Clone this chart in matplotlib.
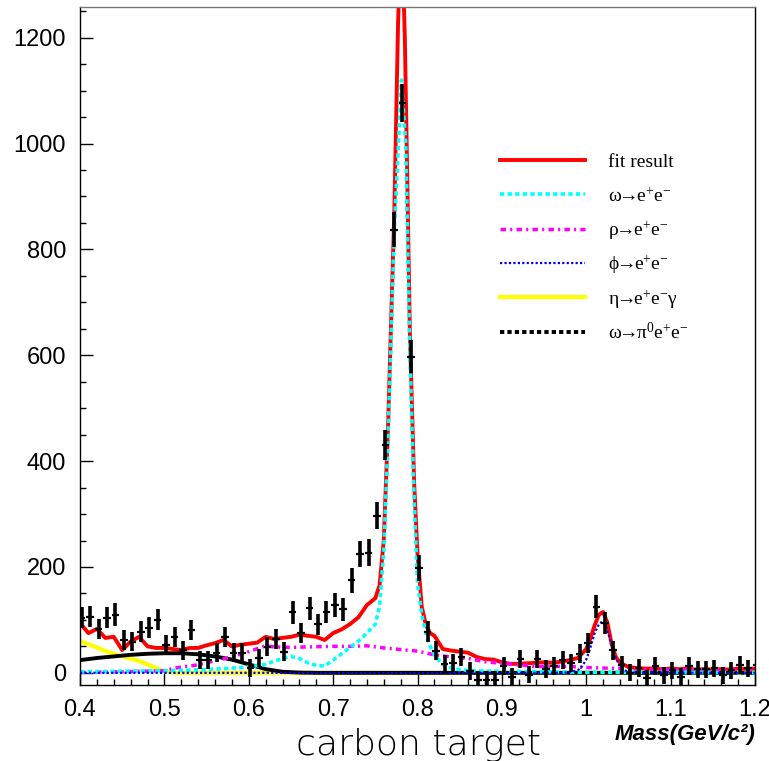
import numpy as np
import matplotlib
matplotlib.use('Agg')
import matplotlib.pyplot as plt
from matplotlib.ticker import MultipleLocator, FixedLocator

plt.rcParams['mathtext.fontset'] = 'custom'
plt.rcParams['mathtext.rm'] = 'Liberation Serif'
plt.rcParams['mathtext.it'] = 'Liberation Serif:italic'
plt.rcParams['mathtext.default'] = 'rm'

# measured spectrum (counts per 10 MeV bin)
counts = [104, 106, 83, 104, 110, 62, 59, 78, 85, 100,
          53, 68, 43, 81, 25, 25, 38, 68, 38, 38,
          10, 28, 49, 64, 40, 114, 75, 122, 92, 115,
          128, 120, 175, 225, 227, 297, 431, 837, 1077, 597,
          198, 78, 42, 17, 19, 30, 4, -13, -13, -13,
          13, -7, 26, -4, 26, 8, 13, 25, 18, 36,
          57, 125, 94, 43, 15, 0, 9, -10, 13, -5,
          5, -7, 12, 7, 7, 9, -5, 5, 15, 9, 15]
errors = [20, 20, 19, 20, 21, 18, 18, 19, 20, 20,
          18, 19, 18, 19, 17, 17, 18, 19, 18, 18,
          17, 17, 18, 19, 18, 21, 19, 22, 20, 21,
          22, 22, 24, 25, 25, 26, 28, 33, 36, 31,
          24, 19, 18, 17, 17, 17, 17, 16, 16, 16,
          17, 16, 17, 16, 17, 17, 17, 17, 17, 18,
          19, 22, 21, 18, 17, 16, 17, 16, 17, 16,
          16, 16, 17, 16, 16, 16, 16, 16, 17, 16, 17]
mass = np.round(0.402 + 0.01 * np.arange(len(counts)), 4)

fit_m = [0.40, 0.41, 0.42, 0.43, 0.44, 0.45, 0.46, 0.47, 0.48, 0.49, 0.50, 0.51, 0.52, 0.53,
         0.54, 0.55, 0.56, 0.57, 0.58, 0.59, 0.60, 0.61, 0.62, 0.63, 0.64, 0.65, 0.66, 0.67,
         0.68, 0.69, 0.70, 0.71, 0.72, 0.73, 0.74, 0.75, 0.755, 0.76, 0.765, 0.7725, 0.777,
         0.781, 0.785, 0.791, 0.796, 0.80, 0.805, 0.81, 0.815, 0.82, 0.83, 0.84, 0.85, 0.86,
         0.87, 0.88, 0.89, 0.90, 0.91, 0.92, 0.93, 0.94, 0.95, 0.96, 0.97, 0.98, 0.99, 1.00,
         1.005, 1.01, 1.015, 1.02, 1.025, 1.03, 1.035, 1.04, 1.05, 1.06, 1.07, 1.08, 1.09,
         1.10, 1.11, 1.12, 1.13, 1.14, 1.15, 1.16, 1.17, 1.18, 1.19, 1.20]
fit_v = [94, 75, 83, 66, 68, 43, 59, 68, 50, 47, 47, 45, 43, 47,
         47, 52, 56, 62, 50, 53, 55, 57, 68, 64, 66, 68, 72, 70,
         68, 62, 75, 82, 92, 105, 128, 141, 165, 250, 460, 870, 1230,
         1420, 1200, 640, 360, 225, 125, 90, 75, 70, 45, 42, 40, 38,
         30, 26, 25, 20, 17, 17, 18, 19, 20, 19, 21, 24, 28, 45,
         65, 90, 110, 115, 95, 55, 30, 19, 11, 9, 8, 8, 7,
         8, 7, 8, 6, 7, 6, 7, 6, 8, 7, 8]

omega_m = [0.40, 0.45, 0.50, 0.55, 0.58, 0.60, 0.62, 0.63, 0.64, 0.65, 0.66, 0.67, 0.68, 0.69,
           0.70, 0.71, 0.72, 0.73, 0.74, 0.75, 0.755, 0.76, 0.765, 0.7725, 0.781, 0.786,
           0.791, 0.796, 0.80, 0.805, 0.81, 0.815, 0.82, 0.825, 0.83, 0.84, 0.85, 0.86,
           0.90, 1.00, 1.10, 1.20]
omega_v = [2, 3, 4, 6, 9, 11, 16, 22, 27, 31, 27, 19, 14, 13,
           24, 36, 48, 60, 75, 92, 125, 230, 435, 837, 1120, 1000,
           597, 327, 170, 110, 75, 50, 34, 24, 16, 9, 6, 4,
           3, 1, 1, 0]

rho_m = [0.40, 0.45, 0.50, 0.51, 0.52, 0.53, 0.54, 0.55, 0.56, 0.58, 0.60, 0.62, 0.63, 0.65,
         0.67, 0.70, 0.72, 0.74, 0.76, 0.78, 0.80, 0.82, 0.84, 0.86, 0.88, 0.90, 0.92, 0.94,
         0.96, 0.98, 1.00, 1.02, 1.04, 1.06, 1.10, 1.15, 1.20]
rho_v = [1, 2, 4, 8, 11, 13, 15, 19, 23, 30, 40, 51, 49, 48,
         49, 50, 50, 51, 47, 44, 41, 34, 30, 27, 21, 18, 15, 12,
         12, 12, 10, 9, 8, 7, 6, 5, 5]

phi_m = [0.40, 0.97, 0.98, 0.99, 0.995, 1.00, 1.005, 1.01, 1.015, 1.019, 1.023, 1.027,
         1.031, 1.035, 1.04, 1.045, 1.05, 1.06, 1.20]
phi_v = [0, 0, 1, 5, 12, 25, 48, 75, 92, 97, 90, 70,
         48, 28, 12, 5, 2, 0, 0]

eta_m = [0.40, 0.41, 0.42, 0.43, 0.44, 0.45, 0.46, 0.47, 0.48, 0.49, 0.50, 0.51, 1.20]
eta_v = [60, 54, 48, 41, 36, 31, 27, 22, 16, 9, 3, 0, 0]

dalitz_m = [0.40, 0.42, 0.44, 0.46, 0.48, 0.50, 0.52, 0.54, 0.56, 0.58, 0.60, 0.62, 0.64,
            0.66, 0.68, 1.20]
dalitz_v = [24, 28, 31, 34, 36, 37, 37, 35, 31, 25, 16, 7, 2, 0.5, 0, 0]

labels = ['fit result', r'$\omega\!\!\rightarrow\!\!e^{+}e^{-}$', r'$\rho\!\!\rightarrow\!\!e^{+}e^{-}$',
          r'$\phi\!\!\rightarrow\!\!e^{+}e^{-}$', r'$\eta\!\!\rightarrow\!\!e^{+}e^{-}\gamma$',
          r'$\omega\!\!\rightarrow\!\!\pi^{0}e^{+}e^{-}$']

fig = plt.figure(figsize=(7.69, 7.61), dpi=100)
ax = fig.add_axes([80 / 769, 76 / 761, 675 / 769, 678 / 761])

ax.plot(fit_m, fit_v, color='#ff0000', lw=2.8)
ax.plot(eta_m, eta_v, color='#ffff00', lw=3.0)
ax.plot(dalitz_m, dalitz_v, color='black', lw=2.8)
ax.plot(rho_m, rho_v, color='#ff00ff', lw=2.5, dashes=(1.6, 1.2, 0.6, 1.2))
ax.plot(omega_m, omega_v, color='#00ffff', lw=2.6, dashes=(1.2, 0.9))
ax.plot(phi_m, phi_v, color='#0000ff', lw=1.6, dashes=(1, 1))

ax.errorbar(mass, counts, yerr=errors, fmt='none', ecolor='black', elinewidth=2.6, capsize=0)
ax.errorbar(mass, counts, xerr=0.0045, fmt='none', ecolor='black', elinewidth=1.6, capsize=0)

ax.set_xlim(0.4, 1.2)
ax.set_ylim(-23, 1258)
ax.xaxis.set_major_locator(FixedLocator([0.4, 0.5, 0.6, 0.7, 0.8, 0.9, 1.0, 1.1, 1.2]))
ax.set_xticklabels(['0.4', '0.5', '0.6', '0.7', '0.8', '0.9', '1', '1.1', '1.2'])
ax.xaxis.set_minor_locator(MultipleLocator(0.02))
ax.yaxis.set_major_locator(MultipleLocator(200))
ax.yaxis.set_minor_locator(MultipleLocator(50))
ax.tick_params(which='both', direction='in', top=False, right=False, width=1)
ax.tick_params(which='major', length=9, labelsize=17, pad=10)
ax.tick_params(which='minor', length=4.5)
for lab in ax.get_xticklabels() + ax.get_yticklabels():
    lab.set_fontfamily('Liberation Sans')
for sp in ax.spines.values():
    sp.set_linewidth(1)
ax.spines['top'].set_color('#777777')

# legend drawn by hand to sit where ROOT put it
styles = [dict(color='#ff0000', lw=2.8),
          dict(color='#00ffff', lw=2.6, dashes=(1.2, 0.9)),
          dict(color='#ff00ff', lw=2.5, dashes=(1.6, 1.2, 0.6, 1.2)),
          dict(color='#0000ff', lw=1.6, dashes=(1, 1)),
          dict(color='#ffff00', lw=3.0),
          dict(color='black', lw=2.8, dashes=(1.1, 0.8))]
rows = [160, 194.5, 229, 263, 297.5, 332]
for py, st, lab in zip(rows, styles, labels):
    yy = (685 - py) / 678
    ax.plot([(500 - 80) / 675, (585 - 80) / 675], [yy, yy], transform=ax.transAxes, **st)
    ax.text((608 - 80) / 675, yy - 7.5 / 678, lab, transform=ax.transAxes, fontsize=14,
            family='Liberation Serif', va='baseline', ha='left')

fig.text(755 / 769, (761 - 740) / 761, 'Mass(GeV/c²)', ha='right', va='baseline',
         fontsize=16, fontweight='bold', fontstyle='italic', family='Liberation Sans')
fig.text(418 / 769, (761 - 755) / 761, 'carbon target', ha='center', va='baseline',
         fontsize=26, fontweight=200, family='DejaVu Sans', color='black')

fig.savefig('out.png', dpi=100)
